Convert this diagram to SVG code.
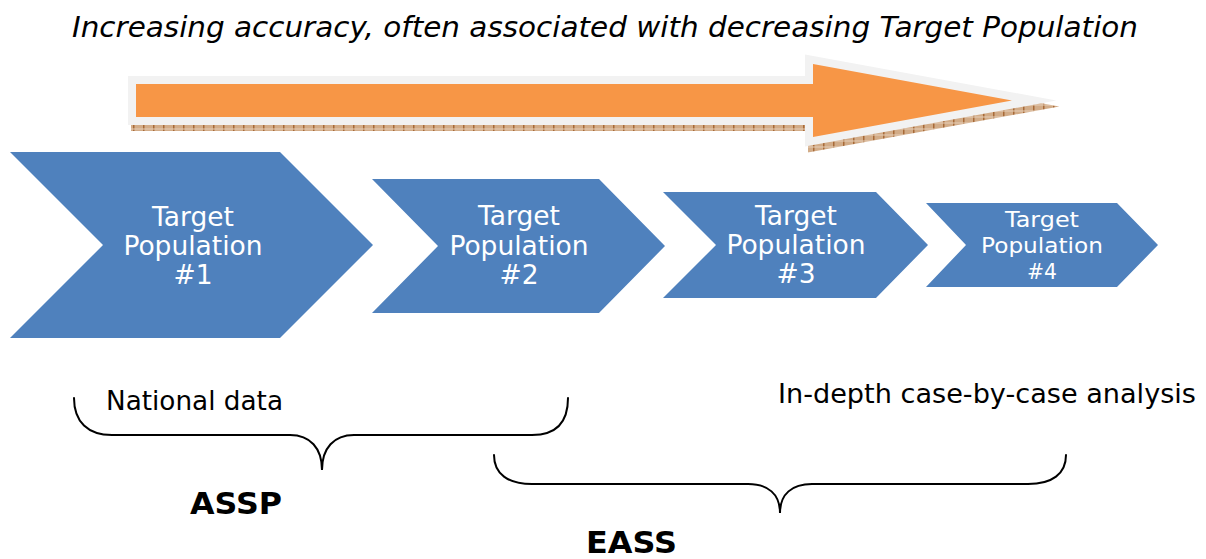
<svg xmlns="http://www.w3.org/2000/svg" xmlns:xlink="http://www.w3.org/1999/xlink" width="1206" height="559" viewBox="0 0 1206 559">
  <defs>
    <style>
      .title { font-family: "DejaVu Sans", Verdana, sans-serif; font-style: italic; font-size: 28px; fill: #000; }
      .chev { fill: #4F81BD; }
      .chev-text { font-family: "DejaVu Sans", Verdana, sans-serif; font-size: 26.5px; fill: #FFFFFF; text-anchor: middle; }
      .chev-text.small { font-size: 21.5px; }
      .label { font-family: "DejaVu Sans", Verdana, sans-serif; font-size: 26px; fill: #000; }
      .group-label { font-family: "DejaVu Sans", Verdana, sans-serif; font-size: 31px; font-weight: bold; fill: #000; }
      .brace { fill: none; stroke: #000; stroke-width: 2; stroke-linecap: round; }
    </style>
    <!-- textured shadow strip under the progress arrow -->
    <pattern id="shadowTex" width="10" height="6" patternUnits="userSpaceOnUse">
      <rect width="10" height="6" fill="#D2AC88"/>
      <rect x="0" y="0" width="1.5" height="6" fill="#A86A38"/>
      <rect x="0" y="2.5" width="10" height="1" fill="#E6CFB8"/>
    </pattern>
    <polygon id="arrowShape" points="136,84 813,84 813,64 1012,100.5 813,137 813,117 136,117"/>
  </defs>

  <!-- heading -->
  <text class="title" x="72" y="37" textLength="1066" lengthAdjust="spacingAndGlyphs">Increasing accuracy, often associated with decreasing Target Population</text>

  <!-- progress arrow -->
  <g id="progress-arrow">
    <use xlink:href="#arrowShape" transform="translate(3,6)" fill="url(#shadowTex)" stroke="url(#shadowTex)" stroke-width="16" stroke-linejoin="miter" stroke-miterlimit="10"/>
    <use xlink:href="#arrowShape" fill="#F79646" stroke="#F2F2F2" stroke-width="16" stroke-linejoin="miter" stroke-miterlimit="10" paint-order="stroke"/>
  </g>

  <!-- process chevrons -->
  <g id="target-population-1">
    <polygon class="chev" points="10,152 280,152 373,245 280,338 10,338 103,245"/>
    <text class="chev-text" x="193" y="226">Target</text>
    <text class="chev-text" x="193" y="255">Population</text>
    <text class="chev-text" x="193" y="284">#1</text>
  </g>
  <g id="target-population-2">
    <polygon class="chev" points="372,179 599,179 665,246 599,313 372,313 438,246"/>
    <text class="chev-text" x="519" y="225">Target</text>
    <text class="chev-text" x="519" y="255">Population</text>
    <text class="chev-text" x="519" y="284">#2</text>
  </g>
  <g id="target-population-3">
    <polygon class="chev" points="663,192 876,192 928,245 876,298 663,298 716,245"/>
    <text class="chev-text" x="796" y="225">Target</text>
    <text class="chev-text" x="796" y="254">Population</text>
    <text class="chev-text" x="796" y="283">#3</text>
  </g>
  <g id="target-population-4">
    <polygon class="chev" points="926,203 1117,203 1158,245 1117,287 926,287 966,245"/>
    <text class="chev-text small" x="1042" y="227" textLength="74" lengthAdjust="spacingAndGlyphs">Target</text>
    <text class="chev-text small" x="1042" y="253" textLength="122" lengthAdjust="spacingAndGlyphs">Population</text>
    <text class="chev-text small" x="1042" y="279" textLength="30" lengthAdjust="spacingAndGlyphs">#4</text>
  </g>

  <!-- range labels -->
  <text class="label" x="106" y="410" textLength="177" lengthAdjust="spacingAndGlyphs">National data</text>
  <text class="label" x="778" y="403" textLength="418" lengthAdjust="spacingAndGlyphs">In-depth case-by-case analysis</text>

  <!-- braces grouping the populations -->
  <g id="connectors">
    <path id="brace-assp" class="brace" d="M74,398 C74,422 88,435 112,435 L290,435 C310,435 322,448 322,470 C322,448 334,435 354,435 L532,435 C556,435 568,422 568,398"/>
    <path id="brace-eass" class="brace" d="M494,455 C494,474 508,484 532,484 L748,484 C768,484 780,494 780,513 C780,494 792,484 812,484 L1028,484 C1052,484 1066,474 1066,455"/>
  </g>

  <g id="assp">
    <text class="group-label" x="190" y="514" textLength="92" lengthAdjust="spacingAndGlyphs">ASSP</text>
  </g>
  <g id="eass">
    <text class="group-label" x="586" y="553" textLength="91" lengthAdjust="spacingAndGlyphs">EASS</text>
  </g>
</svg>
